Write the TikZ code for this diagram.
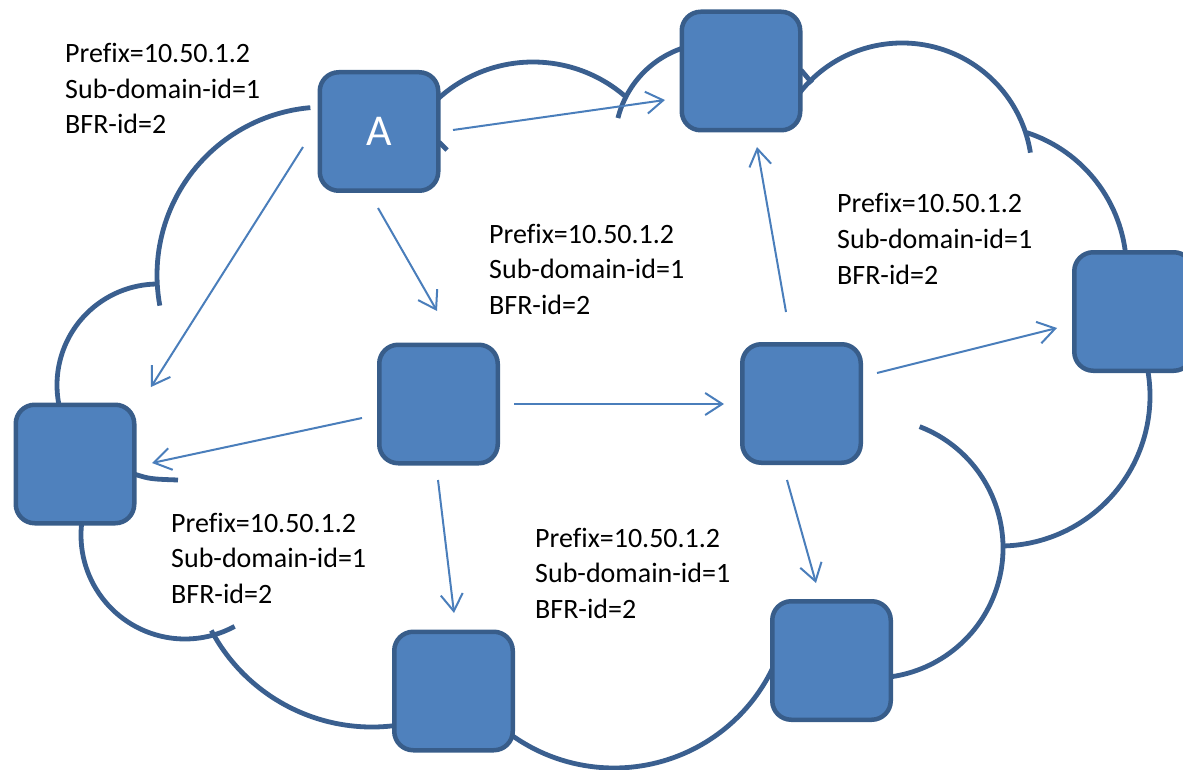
\documentclass[tikz,border=0pt]{standalone}
\usepackage{fontspec}
\setmainfont[Ligatures=NoCommon]{Carlito}
\usetikzlibrary{arrows.meta,calc}
\definecolor{boxfill}{HTML}{4F81BD}
\definecolor{boxline}{HTML}{385D8A}
\definecolor{cloudline}{HTML}{3A5F8F}
\definecolor{arrowc}{HTML}{4A7EBB}
\begin{document}
\begin{tikzpicture}[x=1pt,y=1pt,
  router/.style={draw=boxline, fill=boxfill, line width=4.5pt, rounded corners=19pt,
    minimum width=118.5pt, minimum height=118.5pt, inner sep=0pt},
  cloudarc/.style={draw=cloudline, line width=4.8pt},
  link/.style={draw=arrowc, line width=2pt, -{Straight Barb[length=17pt,width=22pt]}},
  info/.style={anchor=base west, inner sep=0pt, font=\fontsize{28}{35.5}\selectfont}]
\useasboundingbox (0,0) rectangle (1183,-770);
% cloud outline
\draw[cloudarc] (325,-275) ++(190.5:168) arc[start angle=190.5, end angle=95, radius=168];
\draw[cloudarc] (158,-385) ++(195:101) arc[start angle=195, end angle=90, radius=101];
\draw[cloudarc] (185,-535) ++(172:104) arc[start angle=172, end angle=298.5, radius=104];
\draw[cloudarc] (372,-545) ++(208:182) arc[start angle=208, end angle=280, radius=182];
\draw[cloudarc] (614,-592) ++(232:176) arc[start angle=232, end angle=335, radius=176];
\draw[cloudarc] (873,-548) ++(69:130) arc[start angle=69, end angle=-84, radius=130];
\draw[cloudarc] (1000,-396) ++(12:150) arc[start angle=12, end angle=-89, radius=150];
\draw[cloudarc] (982,-270) ++(72:144.5) arc[start angle=72, end angle=3, radius=144.5];
\draw[cloudarc] (902,-173) ++(143:130) arc[start angle=143, end angle=9, radius=130];
\draw[cloudarc] (533,-203) ++(133:141) arc[start angle=133, end angle=48.8, radius=141];
\draw[cloudarc] (714,-142) ++(166:99) arc[start angle=166, end angle=108, radius=99];
\draw[cloudarc] (439,-142) -- (447,-150);
\draw[cloudarc] (801,-70) -- (812,-83);
\draw[cloudarc] (134,-474) .. controls (150,-479) .. (178,-480);
% routers
\node[router, text=white, font=\fontsize{44}{50}\selectfont] (A) at (379,-131.5) {A};
\node[router] (T) at (741,-71) {};
\node[router] (R) at (1133.5,-311.5) {};
\node[router] (M1) at (438.5,-404) {};
\node[router] (M2) at (801.5,-403.5) {};
\node[router] (L) at (75,-464) {};
\node[router] (B1) at (453.5,-691) {};
\node[router] (B2) at (831.5,-660.5) {};
% links
\draw[link] ($(A.center)+(74,1.5)$) -- ($(T.center)+(-76,-29)$);
\draw[link] ($(A.center)+(-76,-15.5)$) -- ($(L.center)+(76,77)$);
\draw[link] ($(A.center)+(-1,-76.5)$) -- ($(M1.center)+(-1.5,93)$);
\draw[link] ($(M1.center)+(-76.5,-14)$) -- ($(L.center)+(77,1)$);
\draw[link] ($(M1.center)+(75.5,0)$) -- ($(M2.center)+(-77.5,-0.5)$);
\draw[link] ($(M1.center)+(-0.5,-76)$) -- ($(B1.center)+(0.5,78)$);
\draw[link] ($(M2.center)+(-15.5,91.5)$) -- ($(T.center)+(16,-76)$);
\draw[link] ($(M2.center)+(75.5,30.5)$) -- ($(R.center)+(-76.5,-16.5)$);
\draw[link] ($(M2.center)+(-14.5,-76.5)$) -- ($(B2.center)+(-15.5,77.5)$);
% labels
\node[info] (t1) at (65,-63) {\begin{tabular}[t]{@{}l@{}}Prefix=10.50.1.2\\Sub-domain-id=1\\BFR-id=2\end{tabular}};
\node[info] (t2) at (489,-243.5) {\begin{tabular}[t]{@{}l@{}}Prefix=10.50.1.2\\Sub-domain-id=1\\BFR-id=2\end{tabular}};
\node[info] (t3) at (837,-213) {\begin{tabular}[t]{@{}l@{}}Prefix=10.50.1.2\\Sub-domain-id=1\\BFR-id=2\end{tabular}};
\node[info] (t4) at (171,-532) {\begin{tabular}[t]{@{}l@{}}Prefix=10.50.1.2\\Sub-domain-id=1\\BFR-id=2\end{tabular}};
\node[info] (t5) at (535,-547) {\begin{tabular}[t]{@{}l@{}}Prefix=10.50.1.2\\Sub-domain-id=1\\BFR-id=2\end{tabular}};
\end{tikzpicture}
\end{document}
